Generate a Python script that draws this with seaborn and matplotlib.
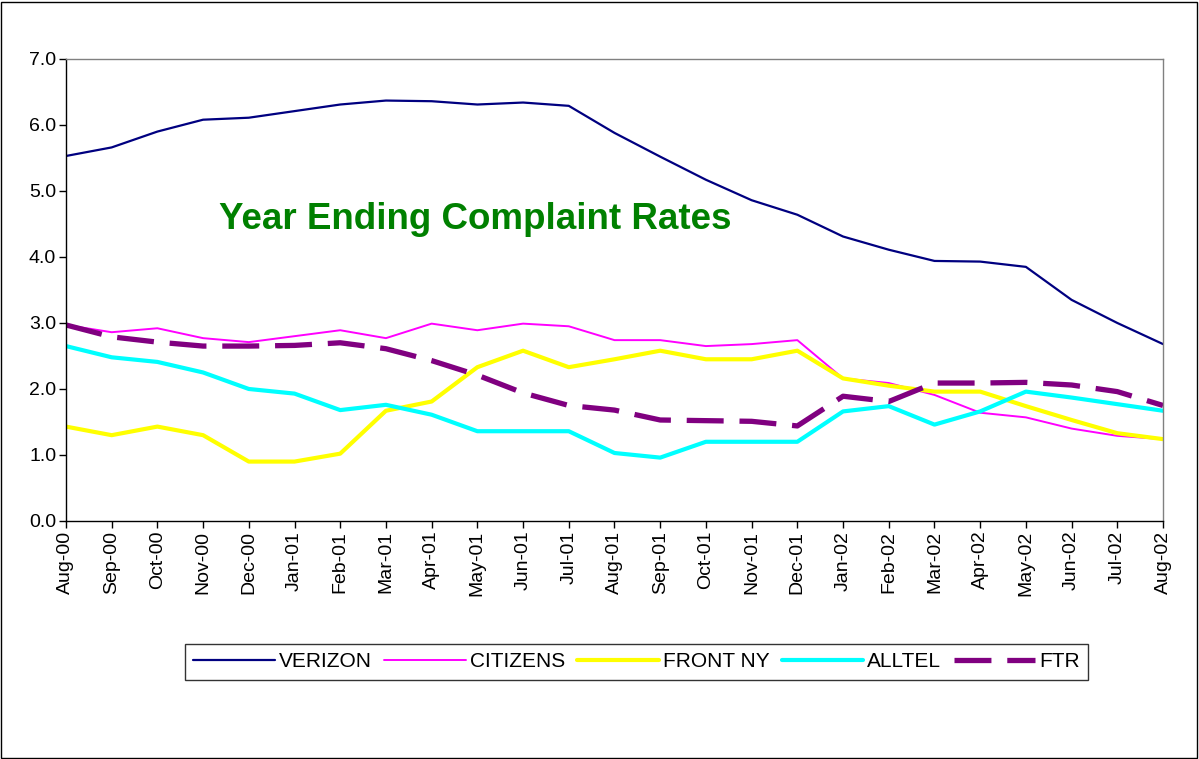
import matplotlib
matplotlib.use("Agg")
import matplotlib.pyplot as plt
import seaborn as sns
from matplotlib.patches import Rectangle

months = ["Aug-00", "Sep-00", "Oct-00", "Nov-00", "Dec-00", "Jan-01", "Feb-01",
          "Mar-01", "Apr-01", "May-01", "Jun-01", "Jul-01", "Aug-01", "Sep-01",
          "Oct-01", "Nov-01", "Dec-01", "Jan-02", "Feb-02", "Mar-02", "Apr-02",
          "May-02", "Jun-02", "Jul-02", "Aug-02"]

verizon = [5.53, 5.66, 5.90, 6.08, 6.11, 6.21, 6.31, 6.37, 6.36, 6.31, 6.34, 6.29,
           5.88, 5.52, 5.17, 4.86, 4.64, 4.31, 4.11, 3.94, 3.93, 3.85, 3.35, 3.00, 2.68]
citizens = [2.97, 2.86, 2.92, 2.77, 2.71, 2.80, 2.89, 2.77, 2.99, 2.89, 2.99, 2.95,
            2.74, 2.74, 2.65, 2.68, 2.74, 2.16, 2.09, 1.91, 1.64, 1.57, 1.40, 1.29, 1.24]
front_ny = [1.43, 1.30, 1.43, 1.30, 0.90, 0.90, 1.02, 1.67, 1.81, 2.33, 2.58, 2.33,
            2.45, 2.58, 2.45, 2.45, 2.58, 2.16, 2.05, 1.96, 1.96, 1.74, 1.53, 1.33, 1.24]
alltel = [2.65, 2.48, 2.41, 2.25, 2.00, 1.93, 1.68, 1.76, 1.61, 1.36, 1.36, 1.36,
          1.03, 0.96, 1.20, 1.20, 1.20, 1.66, 1.74, 1.46, 1.66, 1.96, 1.87, 1.77, 1.67]
ftr = [2.97, 2.79, 2.71, 2.65, 2.65, 2.66, 2.70, 2.61, 2.43, 2.21, 1.94, 1.75,
       1.68, 1.53, 1.52, 1.51, 1.44, 1.89, 1.81, 2.09, 2.09, 2.10, 2.06, 1.96, 1.75]

series = [
    ("VERIZON", verizon, "#000080", 1.6, None),
    ("CITIZENS", citizens, "#FF00FF", 1.4, None),
    ("FRONT NY", front_ny, "#FFFF00", 3.0, None),
    ("ALLTEL", alltel, "#00FFFF", 3.0, None),
    ("FTR", ftr, "#800080", 3.8, (7, 3)),
]

sns.set_style("white")
plt.rcParams["font.family"] = ["Liberation Sans", "DejaVu Sans"]
plt.rcParams["text.color"] = "black"
plt.rcParams["xtick.color"] = "black"
plt.rcParams["ytick.color"] = "black"

fig = plt.figure(figsize=(11.99, 7.59), dpi=100)
ax = fig.add_axes([0.055, 0.3136, 0.915, 0.6087])

x = list(range(len(months)))
for name, vals, color, lw, dash in series:
    sns.lineplot(x=x, y=vals, ax=ax, color=color, linewidth=lw, label=name)
    if dash:
        ax.lines[-1].set_dashes(dash)

ax.set_xlim(0, len(months) - 1)
ax.set_ylim(0, 7)
ax.set_yticks([0, 1, 2, 3, 4, 5, 6, 7])
ax.set_yticklabels([f"{v:.1f}" for v in range(8)], fontsize=14, color="black")
ax.set_xticks(x)
ax.set_xticklabels(months, rotation=90, fontsize=14, color="black")
ax.tick_params(axis="both", direction="out", length=5, width=1, color="black",
               bottom=True, left=True, pad=2)
ax.set_xlabel("")
ax.set_ylabel("")

for side in ["left", "bottom"]:
    ax.spines[side].set_color("black")
    ax.spines[side].set_linewidth(1)
for side in ["top", "right"]:
    ax.spines[side].set_color("#808080")
    ax.spines[side].set_linewidth(1)

ax.text(0.373, 0.652, "Year Ending Complaint Rates", transform=ax.transAxes,
        ha="center", va="center", color="#008000", fontsize=26.5, fontweight="bold")

handles, labels = ax.get_legend_handles_labels()
ax.get_legend().remove()
leg = fig.legend(handles, labels, loc="center", bbox_to_anchor=(0.531, 0.128),
                 ncol=5, fontsize=15, frameon=True, fancybox=False,
                 handlelength=3.9, handletextpad=0.2, columnspacing=0.6,
                 borderpad=0.4, borderaxespad=0, labelcolor="black")
leg.get_frame().set_edgecolor("black")
leg.get_frame().set_linewidth(1)

fig.patches.append(Rectangle((0.001, 0.001), 0.997, 0.997, transform=fig.transFigure,
                             fill=False, edgecolor="black", linewidth=1))

fig.savefig("out.png", dpi=100, facecolor="white")
